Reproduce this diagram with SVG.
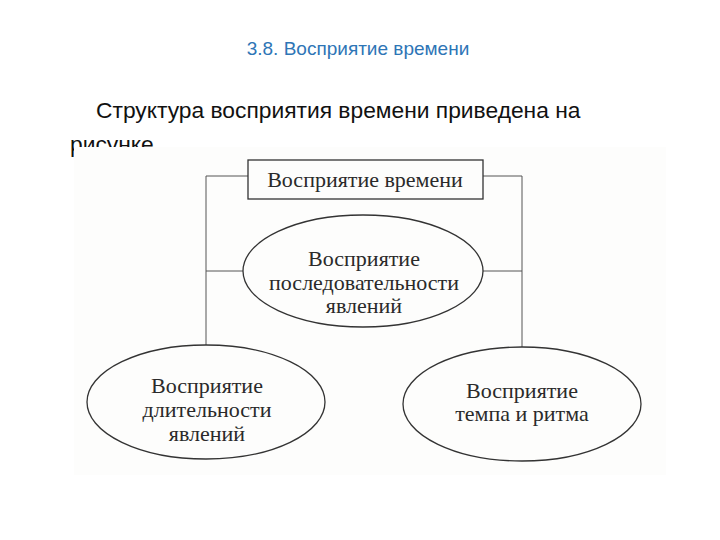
<svg xmlns="http://www.w3.org/2000/svg" width="720" height="540" viewBox="0 0 720 540">
  <style>
    .title { font-family: "Liberation Sans", Arial, sans-serif; font-size: 19px; fill: #2e75b6; }
    .body { font-family: "Liberation Sans", Arial, sans-serif; font-size: 22.8px; fill: #111; }
    .lbl { font-family: "Liberation Serif", "Times New Roman", serif; font-size: 22px; fill: #2a2a2a; text-anchor: middle; }
    .shape { fill: none; stroke: #333; stroke-width: 1.3; }
    .conn { fill: none; stroke: #555; stroke-width: 1; }
  </style>
  <rect x="0" y="0" width="720" height="540" fill="#ffffff"/>
  <text class="title" x="358" y="55" text-anchor="middle">3.8. Восприятие времени</text>
  <text class="body" x="96" y="118">Структура восприятия времени приведена на</text>
  <text class="body" x="70" y="152">рисунке</text>
  <rect id="scan" x="74" y="147" width="592" height="328" fill="#fdfdfc"/>
  <g id="connectors">
    <polyline class="conn" points="248,176 206,176 206,345"/>
    <line class="conn" x1="206" y1="271" x2="243" y2="271"/>
    <polyline class="conn" points="483,176 522,176 522,347"/>
    <line class="conn" x1="483" y1="271" x2="522" y2="271"/>
  </g>
  <g id="node-time">
    <rect class="shape" x="248" y="160" width="235" height="39"/>
    <text class="lbl" x="365" y="187">Восприятие времени</text>
  </g>
  <g id="node-sequence">
    <ellipse class="shape" cx="363" cy="271" rx="120" ry="56"/>
    <text class="lbl" x="364" y="266">Восприятие</text>
    <text class="lbl" x="364" y="290">последовательности</text>
    <text class="lbl" x="364" y="313">явлений</text>
  </g>
  <g id="node-duration">
    <ellipse class="shape" cx="206" cy="402" rx="119" ry="57"/>
    <text class="lbl" x="207" y="393">Восприятие</text>
    <text class="lbl" x="207" y="417">длительности</text>
    <text class="lbl" x="207" y="441">явлений</text>
  </g>
  <g id="node-tempo">
    <ellipse class="shape" cx="522" cy="404" rx="119" ry="57"/>
    <text class="lbl" x="522" y="398">Восприятие</text>
    <text class="lbl" x="522" y="421">темпа и ритма</text>
  </g>
</svg>
